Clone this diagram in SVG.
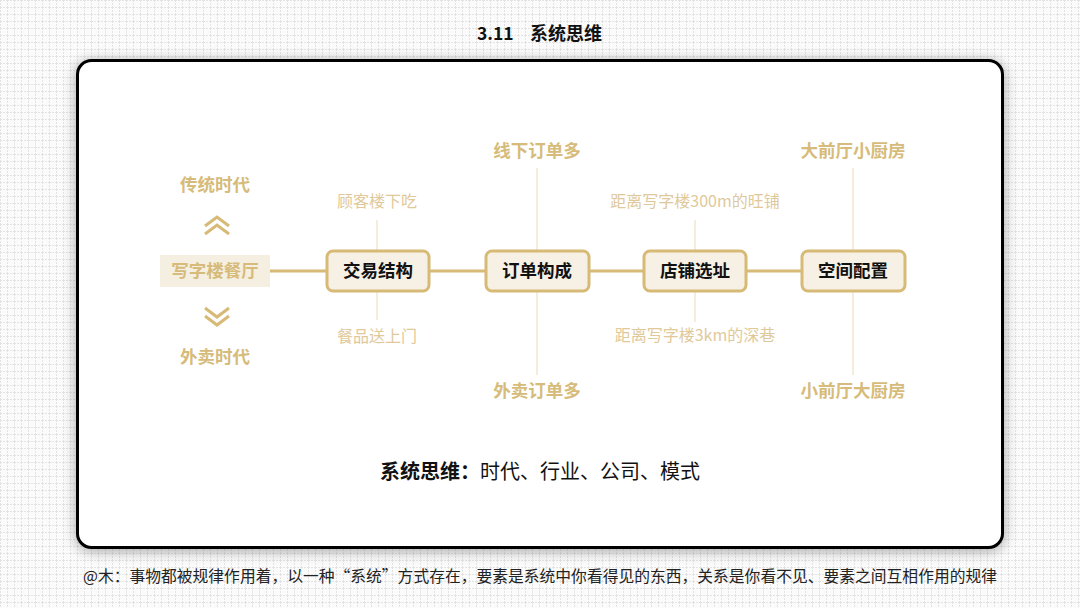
<svg xmlns="http://www.w3.org/2000/svg" width="1080" height="608" viewBox="0 0 1080 608">
<defs>
<pattern id="grid" width="7" height="7" patternUnits="userSpaceOnUse">
<path d="M0 0.5H7M0.5 0V7" stroke="#e3e3e3" stroke-width="1" stroke-dasharray="2 1" fill="none"/>
</pattern>
<filter id="shadow" x="-5%" y="-8%" width="110%" height="116%">
<feGaussianBlur in="SourceAlpha" stdDeviation="7"/>
<feOffset dx="0" dy="2"/>
<feComponentTransfer><feFuncA type="linear" slope="0.35"/></feComponentTransfer>
<feMerge><feMergeNode/><feMergeNode in="SourceGraphic"/></feMerge>
</filter>
<style>
text{font-family:"Noto Sans CJK SC","Noto Sans",sans-serif;text-anchor:middle}
.node rect{fill:#f6f0e5;stroke:#d6ba76;stroke-width:3}
.node text{font-size:17.5px;font-weight:bold;fill:#111}
.gold{font-size:17.5px;font-weight:bold;fill:#d6bb7a}
.light{font-size:16px;fill:#dfc99b}
.main{stroke:#d6ba76;stroke-width:3;fill:none}
.thin{stroke:#eadbb9;stroke-width:1;fill:none}
.chev{stroke:#d6ba76;stroke-width:3;fill:none}
</style>
</defs>
<rect width="1080" height="608" fill="#fbfbfb"/>
<rect width="1080" height="608" fill="url(#grid)"/>
<text x="477" y="40" style="font-size:17.5px;font-weight:bold;fill:#111;text-anchor:start">3.11</text>
<text x="530" y="40" style="font-size:18px;font-weight:bold;fill:#111;text-anchor:start">系统思维</text>
<rect x="77.5" y="60.5" width="925" height="487" rx="14" fill="#fff" stroke="#000" stroke-width="3" filter="url(#shadow)"/>

<g id="connectors">
<path class="main" d="M270 271H327M429 271H485M589 271H643M746 271H801"/>
<path class="thin" d="M377 220V250M377 292V320M537 168V250M537 292V375M695 220V250M695 292V322M853 168V250M853 292V375"/>
</g>

<g id="start">
<rect x="160" y="255" width="110" height="32" fill="#f5efe2"/>
<text x="215" y="277" class="gold">写字楼餐厅</text>
</g>
<g id="up">
<path class="chev" d="M205 226L217 217L229 226M205 234L217 225L229 234"/>
<text x="215" y="191" class="gold">传统时代</text>
</g>
<g id="down">
<path class="chev" d="M205 308L217 317L229 308M205 316L217 325L229 316"/>
<text x="215" y="363" class="gold">外卖时代</text>
</g>

<g id="n1" class="node"><rect x="327" y="251" width="102" height="40" rx="6"/><text x="378" y="277">交易结构</text></g>
<g id="n2" class="node"><rect x="486" y="251" width="103" height="40" rx="6"/><text x="537" y="277">订单构成</text></g>
<g id="n3" class="node"><rect x="644" y="251" width="102" height="40" rx="6"/><text x="695" y="277">店铺选址</text></g>
<g id="n4" class="node"><rect x="802" y="251" width="103" height="40" rx="6"/><text x="853" y="277">空间配置</text></g>

<g id="l1"><text x="377" y="207" class="light">顾客楼下吃</text><text x="377" y="342" class="light">餐品送上门</text></g>
<g id="l2"><text x="537" y="157" class="gold">线下订单多</text><text x="537" y="397" class="gold">外卖订单多</text></g>
<g id="l3"><text x="695" y="207" class="light">距离写字楼300m的旺铺</text><text x="695" y="341" class="light">距离写字楼3km的深巷</text></g>
<g id="l4"><text x="853" y="157" class="gold">大前厅小厨房</text><text x="853" y="397" class="gold">小前厅大厨房</text></g>

<g id="summary"><text x="540" y="479" style="font-size:20px;fill:#111"><tspan font-weight="bold">系统思维：</tspan>时代、行业、公司、模式</text></g>
<text x="83" y="582" textLength="914" lengthAdjust="spacingAndGlyphs" style="font-size:15.8px;fill:#222;text-anchor:start">@木：事物都被规律作用着，以一种“系统”方式存在，要素是系统中你看得见的东西，关系是你看不见、要素之间互相作用的规律</text>
</svg>
